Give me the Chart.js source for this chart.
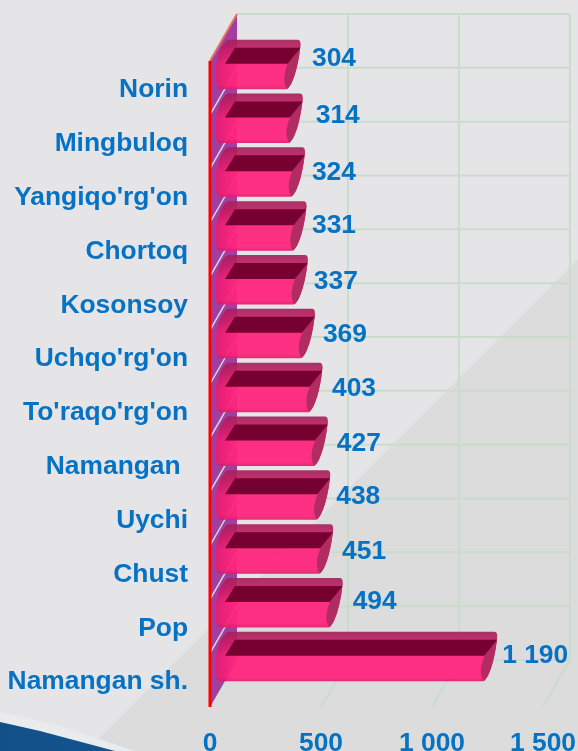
<!DOCTYPE html>
<html>
<head>
<meta charset="utf-8">
<style>
  html, body { margin: 0; padding: 0; }
  body { width: 578px; height: 751px; overflow: hidden; position: relative; background: #e5e5e7; }
  .shade { position: absolute; inset: 0; background: #dcdcdc; clip-path: polygon(578px 259px, 578px 751px, 86px 751px); }
  .haze { position: absolute; inset: 0; background: #e9ebed; clip-path: polygon(0 712px, 60px 726px, 135px 751px, 0 751px); }
  .wave { position: absolute; inset: 0; background: linear-gradient(100deg, #0f4c84, #1c62a0); clip-path: polygon(0 722px, 40px 731px, 115px 751px, 0 751px); }
  canvas { position: absolute; left: 0; top: 0; }
</style>
</head>
<body>
<div class="shade"></div>
<div class="haze"></div>
<div class="wave"></div>
<canvas id="chart" width="578" height="751"></canvas>
<script src="https://cdn.jsdelivr.net/npm/chart.js@4/dist/chart.umd.min.js"></script>
<script>
const categories = ['Norin', 'Mingbuloq', "Yangiqo'rg'on", 'Chortoq', 'Kosonsoy', "Uchqo'rg'on", "To'raqo'rg'on", 'Namangan ', 'Uychi', 'Chust', 'Pop', 'Namangan sh.'];
const values = [304, 314, 324, 331, 337, 369, 403, 427, 438, 451, 494, 1190];
const valueLabels = ['304', '314', '324', '331', '337', '369', '403', '427', '438', '451', '494', '1 190'];
const tickLabels = ['0', '500', '1 000', '1 500'];

const blue = '#0672c4';
const font = { family: '"Liberation Sans", Arial, sans-serif', size: 26.4, weight: 'bold' };
const depthX = 27, depthY = 47;   // offset of the back wall from the front plane
const barDx = 9, barDy = -23.5;   // bars stand a bit behind the front plane
// the value labels were placed by hand in the original
const labelDx = [1.5, 3, -3, -4.5, -4, -2, -0.5, -1, -4, -1, 0, -5];
const labelDy = [-6, -3, 1, 0, 2, 1, 1, 2, 2, 3, -1, -1];

// Cylinder shaped bars, still positioned by the bar controller
class CylinderController extends Chart.BarController {
  draw() {
    const ctx = this.chart.ctx;
    const base = this.chart.scales.x.getPixelForValue(0) + barDx;
    this.getMeta().data.forEach(bar => {
      drawCylinder(ctx, base, bar.x + barDx, bar.y + barDy, bar.height);
    });
  }
}
CylinderController.id = 'cylinderBar';
CylinderController.defaults = Chart.BarController.defaults;
CylinderController.overrides = Chart.BarController.overrides;
Chart.register(CylinderController);

function cylinderPath(ctx, x0, x1, top, bottom) {
  ctx.beginPath();
  ctx.moveTo(x0 + 1, bottom);
  ctx.bezierCurveTo(x0 - 7, bottom, x0 - 5, top + 8, x0 + 9, top);
  ctx.lineTo(x1 + 11, top);
  ctx.quadraticCurveTo(x1 + 14, top, x1 + 14, top + 4);
  ctx.bezierCurveTo(x1 + 13, top + 20, x1 + 7, bottom - 3, x1, bottom);
  ctx.closePath();
}

function drawCylinder(ctx, x0, x1, cy, h) {
  const top = cy - h / 2, bottom = cy + h / 2;
  ctx.save();
  cylinderPath(ctx, x0, x1, top, bottom);
  const body = ctx.createLinearGradient(0, top, 0, bottom);
  body.addColorStop(0, 'rgba(160,35,90,0.92)');
  body.addColorStop(0.2, 'rgba(200,30,100,0.92)');
  body.addColorStop(0.5, 'rgba(255,36,125,0.94)');
  body.addColorStop(0.92, 'rgba(255,36,125,0.94)');
  body.addColorStop(1, 'rgba(225,30,110,0.94)');
  ctx.fillStyle = body;
  ctx.fill();
  ctx.clip();

  // rounded left end is a little darker
  const side = ctx.createLinearGradient(x0 - 4, 0, x0 + 14, 0);
  side.addColorStop(0, 'rgba(170,20,100,0.35)');
  side.addColorStop(1, 'rgba(170,20,100,0)');
  ctx.fillStyle = side;
  ctx.fillRect(x0 - 6, top, 22, h);

  // end cap
  ctx.beginPath();
  ctx.moveTo(x1 + 1, bottom);
  ctx.bezierCurveTo(x1 - 6, bottom - 8, x1 - 2, top + 22, x1 + 16, top + 2);
  ctx.lineTo(x1 + 20, bottom);
  ctx.closePath();
  ctx.fillStyle = '#b02c62';
  ctx.fill();

  // dark slot along the top
  ctx.beginPath();
  ctx.moveTo(x0 + 6, top + 24);
  ctx.lineTo(x0 + 16, top + 8);
  ctx.lineTo(x1 + 14, top + 8);
  ctx.lineTo(x1 + 1, top + 24);
  ctx.closePath();
  ctx.fillStyle = '#76002f';
  ctx.fill();
  ctx.restore();
}

const walls = {
  id: 'walls',
  beforeDatasetsDraw(chart) {
    const ctx = chart.ctx, a = chart.chartArea, x = chart.scales.x;
    const rowH = (a.bottom - a.top) / categories.length;
    ctx.save();
    ctx.strokeStyle = '#cadccb';
    ctx.lineWidth = 2;
    ctx.beginPath();
    x.ticks.forEach(t => {
      const px = x.getPixelForValue(t.value);
      ctx.moveTo(px, a.bottom);
      ctx.lineTo(px + depthX, a.bottom - depthY);
      if (t.value > 0) {
        ctx.moveTo(px + depthX, a.bottom - depthY);
        ctx.lineTo(px + depthX, a.top - depthY);
      }
    });
    for (let i = 0; i <= categories.length; i++) {
      const y = a.top - depthY + i * rowH;
      ctx.moveTo(a.left + depthX, y);
      ctx.lineTo(a.right + depthX, y);
    }
    ctx.stroke();

    // side wall
    ctx.beginPath();
    ctx.moveTo(a.left, a.top);
    ctx.lineTo(a.left + depthX, a.top - depthY);
    ctx.lineTo(a.left + depthX, a.bottom - depthY);
    ctx.lineTo(a.left, a.bottom);
    ctx.closePath();
    ctx.fillStyle = '#a23ea0';
    ctx.fill();
    ctx.strokeStyle = '#d9d9d6';
    ctx.lineWidth = 1.5;
    ctx.beginPath();
    for (let i = 1; i < categories.length; i++) {
      const y = a.top + i * rowH;
      ctx.moveTo(a.left, y);
      ctx.lineTo(a.left + depthX, y - depthY);
    }
    ctx.stroke();
    ctx.strokeStyle = '#e8705f';
    ctx.lineWidth = 2;
    ctx.beginPath();
    ctx.moveTo(a.left, a.top);
    ctx.lineTo(a.left + depthX, a.top - depthY);
    ctx.stroke();
    ctx.restore();
  },
  afterDatasetsDraw(chart) {
    const ctx = chart.ctx, a = chart.chartArea;
    ctx.save();
    ctx.strokeStyle = '#ff0000';
    ctx.lineWidth = 3;
    ctx.beginPath();
    ctx.moveTo(a.left, a.top);
    ctx.lineTo(a.left, a.bottom);
    ctx.stroke();

    // value labels at the end of each cylinder
    ctx.fillStyle = blue;
    ctx.font = `${font.weight} ${font.size}px ${font.family}`;
    ctx.textAlign = 'left';
    ctx.textBaseline = 'middle';
    chart.getDatasetMeta(0).data.forEach((bar, i) => {
      ctx.fillText(valueLabels[i], bar.x + barDx + 24 + labelDx[i], bar.y + barDy + labelDy[i]);
    });
    ctx.restore();
  }
};

new Chart(document.getElementById('chart'), {
  type: 'cylinderBar',
  data: {
    labels: categories,
    datasets: [{ data: values, categoryPercentage: 0.92, barPercentage: 1, clip: false }]
  },
  plugins: [walls],
  options: {
    indexAxis: 'y',
    responsive: false,
    animation: false,
    layout: { autoPadding: false, padding: { top: 61, right: 35 } },
    plugins: { legend: { display: false }, tooltip: { enabled: false } },
    scales: {
      x: {
        min: 0,
        max: 1500,
        afterFit: s => { s.height = 44; s.paddingLeft = 0; s.paddingRight = 0; },
        grid: { display: false },
        border: { display: false },
        ticks: {
          stepSize: 500,
          maxRotation: 0,
          autoSkip: false,
          padding: 13,
          color: blue,
          font: font,
          callback: (v, i) => tickLabels[i]
        }
      },
      y: {
        afterFit: s => { s.width = 210; },
        grid: { display: false },
        border: { display: false },
        ticks: { padding: 14, labelOffset: 2, autoSkip: false, color: blue, font: font }
      }
    }
  }
});
</script>
</body>
</html>
